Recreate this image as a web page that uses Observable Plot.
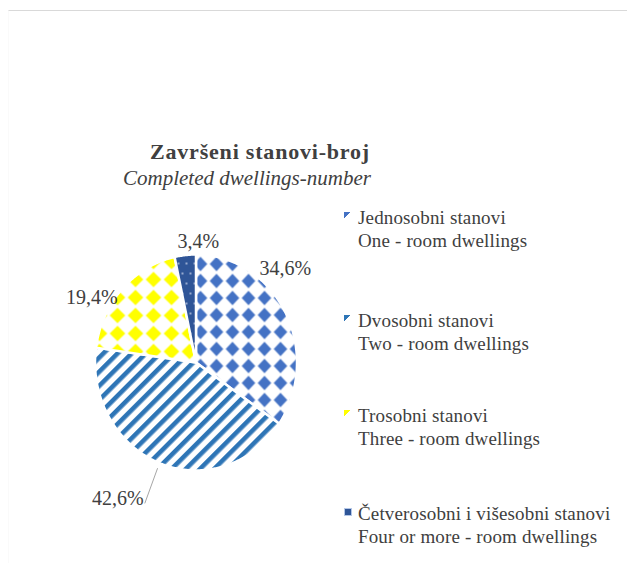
<!DOCTYPE html>
<html>
<head>
<meta charset="utf-8">
<script src="https://cdn.jsdelivr.net/npm/d3@7"></script>
<script src="https://cdn.jsdelivr.net/npm/@observablehq/plot@0.6"></script>
<style>
  html, body { margin: 0; padding: 0; background: #fff; }
  #wrap { position: relative; width: 627px; height: 563px; overflow: hidden; font-family: "Liberation Serif", "DejaVu Serif", serif; color: #404040; }
  #frame { position: absolute; left: 8px; top: 10px; width: 619px; height: 560px; border-top: 1px solid #d9d9d9; border-left: 1px solid #fafafa; }
  #chart { position: absolute; left: 0; top: 0; }
  .t1 { position: absolute; left: 0; width: 520px; text-align: center; font-weight: bold; font-size: 22px; letter-spacing: 0.8px; top: 139px; }
  .t2 { position: absolute; left: 0; width: 494px; text-align: center; font-style: italic; font-size: 21px; top: 166px; }
  .leg { position: absolute; left: 358px; font-size: 19px; letter-spacing: 0.15px; line-height: 23px; white-space: nowrap; }
  .mk { position: absolute; left: -14px; top: 6px; width: 7px; height: 7px; }
</style>
</head>
<body>
<svg width="0" height="0" style="position:absolute">
  <defs>
    <pattern id="pDiamBlue" patternUnits="userSpaceOnUse" width="16" height="17">
      <rect width="16" height="17" fill="#ffffff"/>
      <polygon points="8,1.2 14.8,8.5 8,15.8 1.2,8.5" fill="#4472C4"/>
    </pattern>
    <pattern id="pStripe" patternUnits="userSpaceOnUse" width="10" height="10" patternTransform="rotate(45)">
      <rect width="10" height="10" fill="#ffffff"/>
      <rect width="4.6" height="10" fill="#2E75B6"/>
    </pattern>
    <pattern id="pDiamYellow" patternUnits="userSpaceOnUse" width="18" height="18">
      <rect width="18" height="18" fill="#ffffff"/>
      <polygon points="9,1.2 16.8,9 9,16.8 1.2,9" fill="#FFFF00"/>
    </pattern>
    <pattern id="pDots" patternUnits="userSpaceOnUse" width="8" height="20">
      <rect width="8" height="20" fill="#2F5597"/>
      <circle cx="2" cy="3" r="0.9" fill="#c9d3ea"/>
      <circle cx="6" cy="13" r="0.9" fill="#c9d3ea"/>
    </pattern>
  </defs>
</svg>
<div id="wrap">
  <div id="frame"></div>
  <div id="chart"></div>
  <div class="t1">Završeni stanovi-broj</div>
  <div class="t2">Completed dwellings-number</div>
  <div id="legend"></div>
</div>
<script>
// ---- data ----
const categoriesHr = ["Jednosobni stanovi", "Dvosobni stanovi", "Trosobni stanovi", "Četverosobni i višesobni stanovi"];
const categoriesEn = ["One - room dwellings", "Two - room dwellings", "Three - room dwellings", "Four or more - room dwellings"];
const shares = [34.6, 42.6, 19.4, 3.4];

// ---- styles ----
const fills = ["url(#pDiamBlue)", "url(#pStripe)", "url(#pDiamYellow)", "url(#pDots)"];
const markerColors = ["#4472C4", "#2E75B6", "#FFFF00", "#2F5597"];
const labelR = [1.0, 1.4, 1.0, 1.0];
const labelDx = [0, -1, -30, 13];
const labelDy = [-44, -5, 9, -14];
const labelAnchor = ["middle", "end", "middle", "middle"];
const legendTops = [206, 309, 404, 502];

// ---- geometry from data ----
const arcs = d3.pie().sort(null).value(d => d)(shares);
const slices = arcs.map((a, i) => {
  const pts = [{x: 0, y: 0}];
  const n = Math.max(4, Math.ceil((a.endAngle - a.startAngle) / 0.01));
  for (let k = 0; k <= n; k++) {
    const t = a.startAngle + (a.endAngle - a.startAngle) * k / n;
    pts.push({x: Math.sin(t), y: Math.cos(t)});
  }
  return pts;
});
const labels = arcs.map((a, i) => {
  const m = (a.startAngle + a.endAngle) / 2;
  return {
    text: shares[i].toFixed(1).replace(".", ",") + "%",
    x: labelR[i] * Math.sin(m), y: labelR[i] * Math.cos(m),
    x0: 1.05 * Math.sin(m), y0: 1.05 * Math.cos(m),
    i
  };
});

const marks = slices.map((pts, i) =>
  Plot.line(pts, {x: "x", y: "y", curve: "linear-closed", fill: fills[i], stroke: "white", strokeWidth: 2.5})
);
marks.push(Plot.link([labels[1]], {x1: "x0", y1: "y0", x2: "x", y2: "y", stroke: "#a6a6a6", strokeWidth: 1}));
labels.forEach((l, i) => {
  marks.push(Plot.text([l], {x: "x", y: "y", text: "text", dx: labelDx[i], dy: labelDy[i], textAnchor: labelAnchor[i],
    fontSize: 20, fill: "#404040", fontFamily: "Liberation Serif"}));
});

const svg = Plot.plot({
  width: 627, height: 563, margin: 0,
  style: {background: "transparent", overflow: "visible"},
  x: {domain: [-1, 1], range: [94.5, 296.5], axis: null},
  y: {domain: [-1, 1], range: [470, 254], axis: null},
  marks
});
document.getElementById("chart").appendChild(svg);

// ---- legend ----
const leg = document.getElementById("legend");
categoriesHr.forEach((c, i) => {
  const d = document.createElement("div");
  d.className = "leg";
  d.style.top = legendTops[i] + "px";
  const mk = document.createElement("div");
  mk.className = "mk";
  if (i === 3) {
    mk.style.background = markerColors[i];
    mk.style.width = "6px"; mk.style.height = "6px";
    mk.style.border = "1px solid #b4c7e7";
  } else {
    mk.style.background = `linear-gradient(135deg, ${markerColors[i]} 0 45%, transparent 46%)`;
  }
  d.appendChild(mk);
  d.appendChild(document.createTextNode(c));
  d.appendChild(document.createElement("br"));
  d.appendChild(document.createTextNode(categoriesEn[i]));
  leg.appendChild(d);
});
</script>
</body>
</html>
